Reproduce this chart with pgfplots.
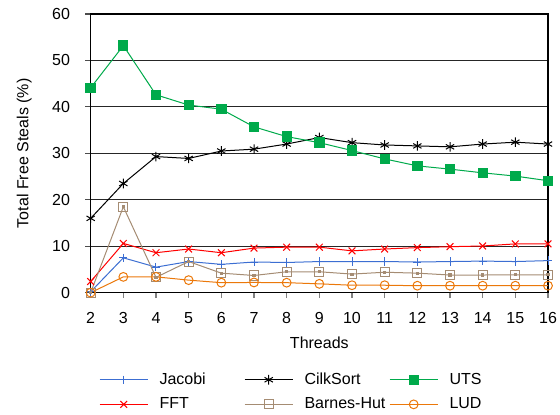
\documentclass[border=0pt]{standalone}
\usepackage{fontspec}
\setmainfont{Liberation Sans}
\usepackage{pgfplots}
\pgfplotsset{compat=1.18}
\definecolor{cjac}{RGB}{60,110,210}
\definecolor{cfft}{RGB}{255,0,0}
\definecolor{cbh}{RGB}{165,140,115}
\definecolor{cuts}{RGB}{0,170,75}
\definecolor{clud}{RGB}{235,120,10}
\newcommand{\legtxt}[1]{\makebox[68pt][l]{\hspace{6.5pt}#1}}
\begin{document}
\begin{tikzpicture}[font=\fontsize{12}{14.4}\selectfont]
\path[use as bounding box] (-68pt,-91pt) rectangle (352pt,219.5pt);
\begin{axis}[
  at={(0,0)}, anchor=south west,
  scale only axis, width=343pt, height=209pt,
  xmin=2, xmax=16, ymin=0, ymax=60,
  xtick={2,...,16}, ytick={0,10,...,60},
  /pgf/number format/assume math mode=true,
  tick align=outside, xtick pos=bottom, ytick pos=left,
  major tick length=4pt,
  xtick style={gray, line width=0.8pt},
  ytick style={black!70, line width=0.8pt},
  axis line style={line width=0.8pt},
  ymajorgrids, grid style={black!85, line width=0.6pt},
  xticklabel style={yshift=-7.5pt},
  yticklabel style={xshift=-8pt},
  xlabel={Threads}, ylabel={Total Free Steals (\%)},
  xlabel style={at={(axis description cs:0.5,-0.1995)}, anchor=base},
  ylabel style={at={(axis description cs:-0.1364,0.5)}, anchor=base},
  clip=false,
  legend columns=3,
  legend cell align=left,
  legend style={at={(axis description cs:0,0)}, anchor=north west, xshift=3.2pt, yshift=-56pt, draw=none, fill=none, row sep=4.5pt},
  legend image code/.code={\draw[mark repeat=2,mark phase=2,#1] plot coordinates {(0pt,0pt) (18pt,0pt) (36pt,0pt)};},
  every axis plot/.append style={line width=0.75pt},
]
\addplot[color=cjac, mark=+, mark size=3.1pt] coordinates {
(2,0.2) (3,7.5) (4,5.5) (5,6.7) (6,6.1) (7,6.6) (8,6.5) (9,6.7) (10,6.7) (11,6.7) (12,6.6) (13,6.7) (14,6.8) (15,6.7) (16,6.9)};
\addlegendentry{\legtxt{Jacobi}}
\addplot[color=black, mark=asterisk, mark size=3.6pt] coordinates {
(2,16.0) (3,23.5) (4,29.3) (5,28.9) (6,30.5) (7,30.9) (8,32.0) (9,33.4) (10,32.3) (11,31.8) (12,31.6) (13,31.4) (14,32.0) (15,32.4) (16,32.0)};
\addlegendentry{\legtxt{CilkSort}}
\addplot[color=cuts, mark=square*, mark size=3.5pt] coordinates {
(2,44.1) (3,53.2) (4,42.6) (5,40.4) (6,39.5) (7,35.7) (8,33.6) (9,32.3) (10,30.6) (11,28.8) (12,27.3) (13,26.6) (14,25.8) (15,25.1) (16,24.1)};
\addlegendentry{\legtxt{UTS}}
\addplot[color=cfft, mark=x, mark size=3.6pt] coordinates {
(2,2.4) (3,10.6) (4,8.6) (5,9.4) (6,8.6) (7,9.6) (8,9.8) (9,9.8) (10,9.0) (11,9.4) (12,9.7) (13,9.9) (14,10.05) (15,10.5) (16,10.5)};
\addlegendentry{\legtxt{FFT}}
\addplot[color=cbh, mark=square, mark size=3.4pt] coordinates {
(2,0) (3,18.5) (4,3.3) (5,6.7) (6,4.2) (7,3.7) (8,4.5) (9,4.5) (10,4.0) (11,4.4) (12,4.2) (13,3.8) (14,3.8) (15,3.85) (16,3.85)};
\addlegendentry{\legtxt{Barnes-Hut}}
\addplot[color=clud, mark=o, mark size=3.3pt] coordinates {
(2,0) (3,3.4) (4,3.4) (5,2.7) (6,2.15) (7,2.2) (8,2.15) (9,1.9) (10,1.6) (11,1.6) (12,1.5) (13,1.5) (14,1.5) (15,1.5) (16,1.5)};
\addlegendentry{\legtxt{LUD}}
\addplot[forget plot, only marks, color=cbh, mark=square*, mark size=0.8pt] coordinates {
(2,0) (3,18.5) (4,3.3) (5,6.7) (6,4.2) (7,3.7) (8,4.5) (9,4.5) (10,4.0) (11,4.4) (12,4.2) (13,3.8) (14,3.8) (15,3.85) (16,3.85)};
\end{axis}
\end{tikzpicture}
\end{document}
